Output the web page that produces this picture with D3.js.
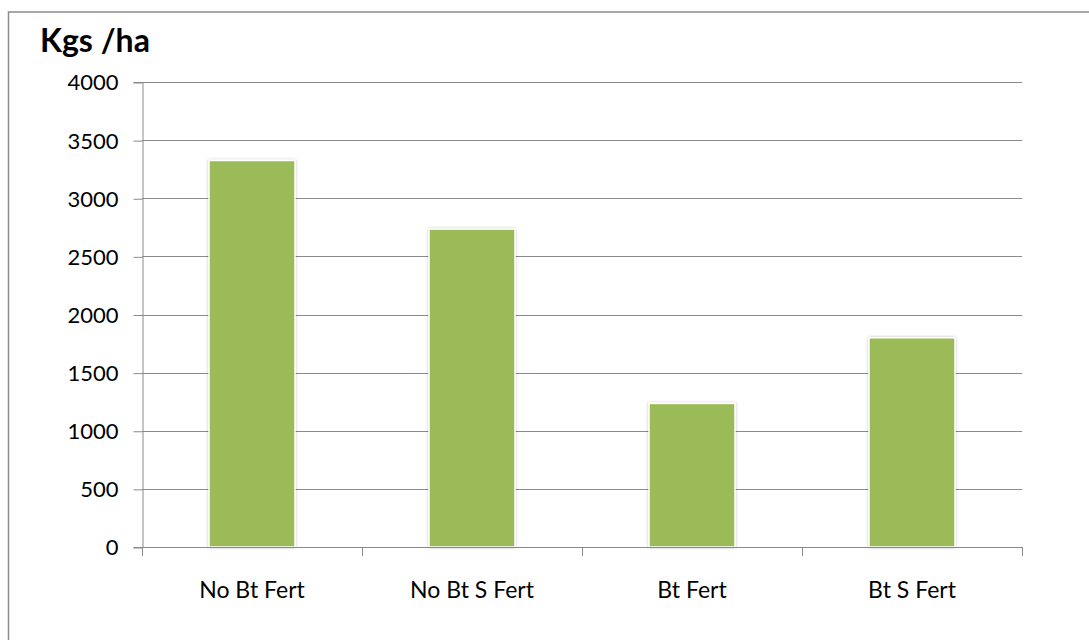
<!DOCTYPE html>
<html>
<head>
<meta charset="utf-8">
<script src="https://cdn.jsdelivr.net/npm/d3@7"></script>
<style>
  body { margin: 0; background: #fff; }
  text { font-family: Lato, "Open Sans", sans-serif; fill: #000; }
</style>
</head>
<body>
<div id="chart"></div>
<script>
// Chart data
const categories = ["No Bt Fert", "No Bt S Fert", "Bt Fert", "Bt S Fert"];
const yields = [3325, 2735, 1235, 1800];
const yTicks = [0, 500, 1000, 1500, 2000, 2500, 3000, 3500, 4000];

const W = 1089, H = 640;
const margin = { top: 82, right: 67, bottom: 93, left: 142 },
      width = W - margin.left - margin.right,
      height = H - margin.top - margin.bottom;

const svg = d3.select("#chart").append("svg")
    .attr("width", W)
    .attr("height", H);

// soft glow around bars
const defs = svg.append("defs");
const f = defs.append("filter").attr("id", "glow")
    .attr("x", "-10%").attr("y", "-10%").attr("width", "120%").attr("height", "120%");
f.append("feDropShadow").attr("dx", 0).attr("dy", 0).attr("stdDeviation", 1.5)
    .attr("flood-color", "#000").attr("flood-opacity", 0.25);

// outer frame
svg.append("rect")
    .attr("x", 8.5).attr("y", 12)
    .attr("width", W + 20).attr("height", H + 20)
    .attr("fill", "none")
    .attr("stroke", "#8c8c8c")
    .attr("stroke-width", 1.5);

const g = svg.append("g")
    .attr("transform", "translate(" + margin.left + "," + margin.top + ")");

const x = d3.scaleBand()
    .domain(categories)
    .range([0, width]);

const y = d3.scaleLinear()
    .domain([0, 4000])
    .range([height, 0]);

// gridlines
g.selectAll(".grid")
    .data(yTicks.filter(d => d > 0))
  .enter().append("line")
    .attr("x1", 0).attr("x2", width)
    .attr("y1", d => Math.round(y(d)) + 0.5)
    .attr("y2", d => Math.round(y(d)) + 0.5)
    .attr("stroke", "#8a8a8a")
    .attr("stroke-width", 1);

// y axis
const yAxis = g.append("g")
    .attr("transform", "translate(0.5,0)")
    .call(d3.axisLeft(y).tickValues(yTicks).tickSize(9).tickPadding(15).tickFormat(d3.format("d")));
yAxis.select(".domain").attr("stroke", "#8a8a8a");
yAxis.selectAll(".tick line").attr("stroke", "#8a8a8a")
    .attr("transform", "translate(0,0.5)");
yAxis.selectAll(".tick text")
    .style("font-size", "22px")
    .style("fill", "#000")
    .attr("dy", "0.36em");

// bars
const bw = 86;
g.selectAll(".bar")
    .data(yields)
  .enter().append("rect")
    .attr("class", "bar")
    .attr("x", (d, i) => x(categories[i]) + x.bandwidth() / 2 - bw / 2)
    .attr("width", bw)
    .attr("y", d => y(d))
    .attr("height", d => height - y(d))
    .attr("fill", "#9bbb59")
    .attr("stroke", "#ffffff")
    .attr("stroke-width", 1.5)
    .attr("filter", "url(#glow)");

// x axis
const xAxis = g.append("g")
    .attr("transform", "translate(0," + (Math.round(height) + 0.5) + ")")
    .call(d3.axisBottom(x).tickSize(0));
xAxis.select(".domain").attr("stroke", "#8a8a8a").attr("d", "M0.5,0H" + width);
xAxis.selectAll(".tick text")
    .attr("y", 50)
    .attr("dy", 0)
    .style("font-size", "23px")
    .style("fill", "#000");

// category separator ticks
g.selectAll(".sep")
    .data(d3.range(categories.length + 1))
  .enter().append("line")
    .attr("x1", i => Math.round(i * x.step()) + 0.5)
    .attr("x2", i => Math.round(i * x.step()) + 0.5)
    .attr("y1", height)
    .attr("y2", height + 9)
    .attr("stroke", "#8a8a8a");

// axis title
svg.append("text")
    .attr("x", 40)
    .attr("y", 52)
    .style("font-size", "32px")
    .style("font-weight", "bold")
    .text("Kgs /ha");
</script>
</body>
</html>
